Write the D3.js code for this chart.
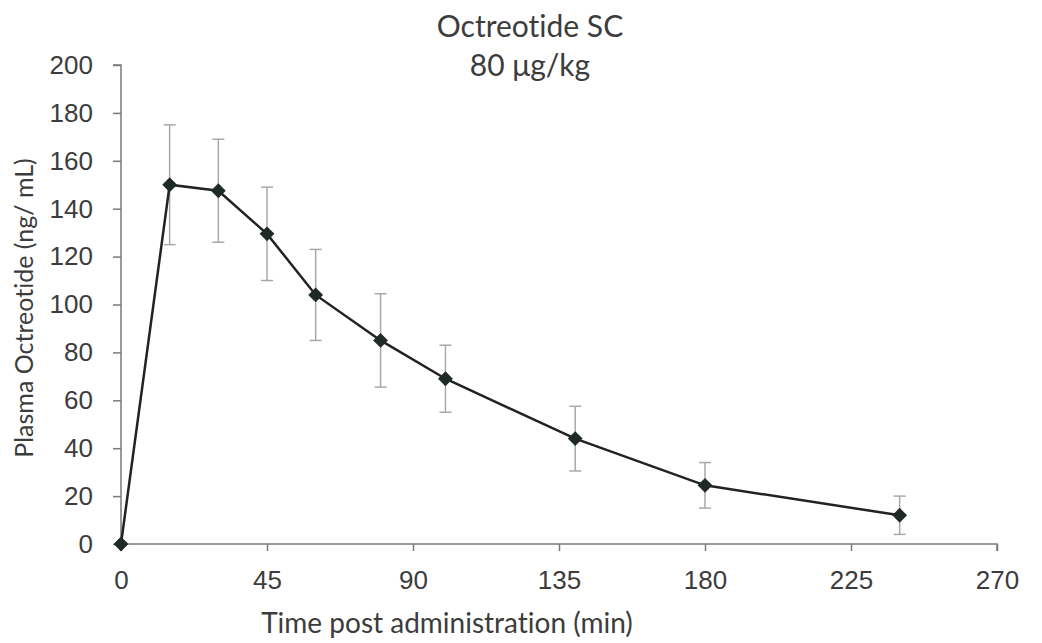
<!DOCTYPE html>
<html>
<head>
  <meta charset="UTF-8"/>
  <title>Octreotide SC</title>
  <script src="https://d3js.org/d3.v7.min.js"></script>
  <style>
    body { margin: 0; background: #fff; }
    svg { font-family: Lato, 'Open Sans', sans-serif; font-variant-ligatures: none; }
    .axis path, .axis line { stroke: #7a7a7a; stroke-width: 1.5; }
    .axis text { font-size: 26px; fill: #3c3c3c; }
    .labels { fill: #3c3c3c; }
  </style>
</head>
<body>
<svg width="1042" height="643"></svg>
<script>
// values
var times = [0, 15, 30, 45, 60, 80, 100, 140, 180, 240];
var conc  = [0, 150, 147.5, 129.5, 104, 85, 69, 44, 24.5, 12];
var sd    = [0, 25, 21.5, 19.5, 19, 19.5, 14, 13.5, 9.5, 8];
var xTicks = [0, 45, 90, 135, 180, 225, 270];
var yTicks = [0, 20, 40, 60, 80, 100, 120, 140, 160, 180, 200];

var svg = d3.select("svg"),
    margin = {top: 65, right: 45, bottom: 99, left: 121},
    width = +svg.attr("width") - margin.left - margin.right,
    height = +svg.attr("height") - margin.top - margin.bottom;

var x = d3.scaleLinear().domain([0, 270]).range([0, width]),
    y = d3.scaleLinear().domain([0, 200]).range([height, 0]);

var g = svg.append("g")
    .attr("transform", "translate(" + margin.left + "," + margin.top + ")");

var data = times.map(function(t, i) { return {t: t, v: conc[i], sd: sd[i]}; });

g.append("g")
    .attr("class", "axis")
    .attr("transform", "translate(0," + height + ")")
    .call(d3.axisBottom(x).tickValues(xTicks).tickSize(7).tickSizeOuter(7).tickPadding(20))
    .call(function(a) { a.select(".domain").attr("d", "M0,0H" + width + "V7"); });

g.append("g")
    .attr("class", "axis")
    .call(d3.axisLeft(y).tickValues(yTicks).tickSize(8).tickSizeOuter(8).tickPadding(20))
    .call(function(a) { a.select(".domain").attr("d", "M-8,0H0V" + height); });

// error bars
var bars = g.selectAll(".err")
    .data(data.filter(function(d) { return d.sd > 0; }))
    .enter().append("g")
      .attr("class", "err")
      .attr("stroke", "#a8a8a8")
      .attr("stroke-width", 1.5);

bars.append("line")
    .attr("x1", function(d) { return x(d.t); })
    .attr("x2", function(d) { return x(d.t); })
    .attr("y1", function(d) { return y(d.v + d.sd); })
    .attr("y2", function(d) { return y(d.v - d.sd); });
bars.append("line")
    .attr("x1", function(d) { return x(d.t) - 6; })
    .attr("x2", function(d) { return x(d.t) + 6; })
    .attr("y1", function(d) { return y(d.v + d.sd); })
    .attr("y2", function(d) { return y(d.v + d.sd); });
bars.append("line")
    .attr("x1", function(d) { return x(d.t) - 6; })
    .attr("x2", function(d) { return x(d.t) + 6; })
    .attr("y1", function(d) { return y(d.v - d.sd); })
    .attr("y2", function(d) { return y(d.v - d.sd); });

var line = d3.line()
    .x(function(d) { return x(d.t); })
    .y(function(d) { return y(d.v); });

g.append("path")
    .datum(data)
    .attr("fill", "none")
    .attr("stroke", "#222")
    .attr("stroke-width", 2.5)
    .attr("d", line);

g.selectAll(".pt")
    .data(data)
    .enter().append("path")
      .attr("class", "pt")
      .attr("fill", "#1f2a25")
      .attr("d", d3.symbol().type(d3.symbolDiamond2).size(140))
      .attr("transform", function(d) { return "translate(" + x(d.t) + "," + y(d.v) + ")"; });

// titles
svg.append("text")
    .attr("class", "labels")
    .attr("x", 530).attr("y", 37)
    .attr("text-anchor", "middle")
    .style("font-size", "30px")
    .text("Octreotide SC");

svg.append("text")
    .attr("class", "labels")
    .attr("x", 530).attr("y", 76)
    .attr("text-anchor", "middle")
    .style("font-size", "30px")
    .text("80 μg/kg");

svg.append("text")
    .attr("class", "labels")
    .attr("x", 447).attr("y", 633)
    .attr("text-anchor", "middle")
    .style("font-size", "28px")
    .text("Time post administration (min)");

svg.append("text")
    .attr("class", "labels")
    .attr("transform", "translate(33,308) rotate(-90)")
    .attr("text-anchor", "middle")
    .style("font-size", "25px")
    .text("Plasma Octreotide (ng/ mL)");
</script>
</body>
</html>
